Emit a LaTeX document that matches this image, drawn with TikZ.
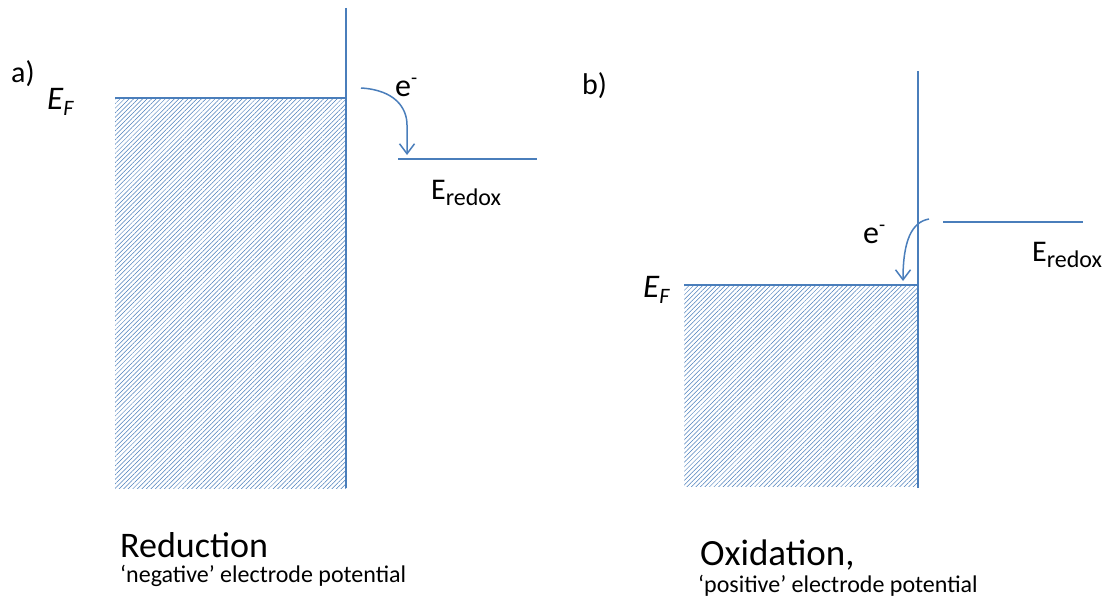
\documentclass[tikz,border=0pt]{standalone}
\usepackage{fontspec}
\setmainfont{Carlito}
\usetikzlibrary{patterns.meta,arrows.meta}
\definecolor{lb}{RGB}{74,126,187}
\newcommand{\fs}[1]{\fontsize{#1}{#1}\selectfont}
\newcommand{\lowered}[3]{\raisebox{-#2pt}{\fs{#1}#3}}
\begin{document}
\begin{tikzpicture}[x=1pt,y=-1pt,
  ln/.style={draw=lb,line width=1.5pt},
  edge/.style={draw=lb,line width=1.1pt},
  hatch/.style={pattern={Lines[angle=45,distance=3.2pt,line width=0.5pt]},pattern color=lb},
  ar/.style={ln,-{Straight Barb[length=10pt,width=15pt,line width=1.5pt]}},
  txt/.style={inner sep=0pt,anchor=base west,text=black}]
\useasboundingbox (0,0) rectangle (1115,599);
% panel a
\fill[hatch] (115,98) rectangle (346,488);
\draw[edge] (115,98) -- (346,98);
\draw[ln] (346,8) -- (346,488);
\draw[ln] (398,159) -- (537,159);
\coordinate (a1) at (361,88);
\coordinate (a2) at (407,155);
\draw[ar] (a1) .. controls (395,90) and (407,108) .. (407,125) -- (a2);
\node[txt,font=\fs{30}] (la) at (11,83) {a)};
\node[txt,font=\fs{33}\itshape] (efa) at (47,110) {E\lowered{22}{6}{F}};
\node[txt,font=\fs{32}] (ea) at (395,96) {e\raisebox{12pt}{\fs{20}-}};
\node[txt,font=\fs{30}] (era) at (431,199) {E\lowered{24}{6}{redox}};
\node[txt,font=\fs{36}] (reda) at (120,557) {Reduction};
\node[txt,font=\fs{24}] (nega) at (120,582) {‘negative’ electrode potential};
% panel b
\fill[hatch] (684,285) rectangle (918,486);
\draw[edge] (684,285) -- (918,285);
\draw[ln] (918,71) -- (918,488);
\draw[ln] (943,222) -- (1083,222);
\coordinate (b1) at (929,219);
\coordinate (b2) at (903,281);
\draw[ar] (b1) .. controls (912,222) and (903,240) .. (b2);
\node[txt,font=\fs{30}] (lb) at (582,95) {b)};
\node[txt,font=\fs{33}\itshape] (efb) at (643,297) {E\lowered{22}{6}{F}};
\node[txt,font=\fs{32}] (eb) at (863,243) {e\raisebox{12pt}{\fs{20}-}};
\node[txt,font=\fs{30}] (erb) at (1032,261) {E\lowered{24}{6}{redox}};
\node[txt,font=\fs{37}] (oxb) at (700,565) {Oxidation,};
\node[txt,font=\fs{24}] (posb) at (698,592) {‘positive’ electrode potential};
\end{tikzpicture}
\end{document}
